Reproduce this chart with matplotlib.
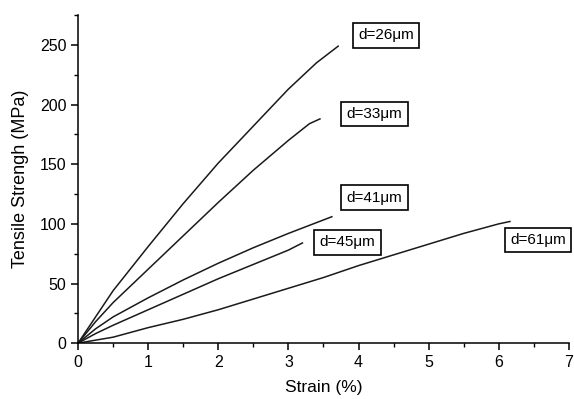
import matplotlib

matplotlib.use("Agg")
import matplotlib.pyplot as plt
from matplotlib.ticker import MultipleLocator

plt.rcParams["font.family"] = ["Liberation Sans", "DejaVu Sans"]

# strain (%) / tensile strength (MPa) per fibre diameter
strain_26 = [0, 0.25, 0.5, 1.0, 1.5, 2.0, 2.5, 3.0, 3.4, 3.71]
stress_26 = [0, 22, 44, 81, 117, 151, 182, 213, 235, 249]
strain_33 = [0, 0.25, 0.5, 1.0, 1.5, 2.0, 2.5, 3.0, 3.3, 3.45]
stress_33 = [0, 18, 34, 62, 90, 118, 145, 170, 184, 188]
strain_41 = [0, 0.25, 0.5, 1.0, 1.5, 2.0, 2.5, 3.0, 3.62]
stress_41 = [0, 12, 22, 38, 53, 67, 80, 92, 106]
strain_45 = [0, 0.25, 0.5, 1.0, 1.5, 2.0, 2.5, 3.0, 3.2]
stress_45 = [0, 8, 15, 28, 41, 54, 66, 78, 84]
strain_61 = [0, 0.5, 1.0, 1.5, 2.0, 2.5, 3.0, 3.5, 4.0, 4.5, 5.0, 5.5, 6.0, 6.16]
stress_61 = [0, 5, 13, 20, 28, 37, 46, 55, 65, 74, 83, 92, 100, 102]

labels = ["d=26μm", "d=33μm", "d=41μm", "d=45μm", "d=61μm"]
label_x = [4.39, 4.23, 4.23, 3.84, 6.56]
label_y = [258, 192, 122, 84.5, 86.5]

series = [
    (strain_26, stress_26),
    (strain_33, stress_33),
    (strain_41, stress_41),
    (strain_45, stress_45),
    (strain_61, stress_61),
]

fig = plt.figure(figsize=(5.74, 3.99), dpi=100)
ax = fig.add_axes([0.136, 0.140, 0.855, 0.822])

for x, y in series:
    ax.plot(x, y, color="#1a1a1a", lw=1.1)

for lab, lx, ly in zip(labels, label_x, label_y):
    ax.text(lx, ly, lab, ha="center", va="center", fontsize=11, clip_on=False,
            bbox=dict(boxstyle="square,pad=0.35", fc="white", ec="black", lw=1.2))

ax.set_xlim(0, 7)
ax.set_ylim(0, 275)
ax.xaxis.set_major_locator(MultipleLocator(1))
ax.xaxis.set_minor_locator(MultipleLocator(0.5))
ax.yaxis.set_major_locator(MultipleLocator(50))
ax.yaxis.set_minor_locator(MultipleLocator(25))
ax.spines["top"].set_visible(False)
ax.spines["right"].set_visible(False)
for s in ("left", "bottom"):
    ax.spines[s].set_linewidth(1.1)
ax.tick_params(which="major", direction="out", length=5, width=1.1, labelsize=11.5)
ax.tick_params(which="minor", direction="out", length=3, width=1.0)
ax.set_xlabel("Strain (%)", fontsize=12.5, labelpad=7)
ax.set_ylabel("Tensile Strengh (MPa)", fontsize=13, labelpad=8)

fig.savefig("out.png", dpi=100)
